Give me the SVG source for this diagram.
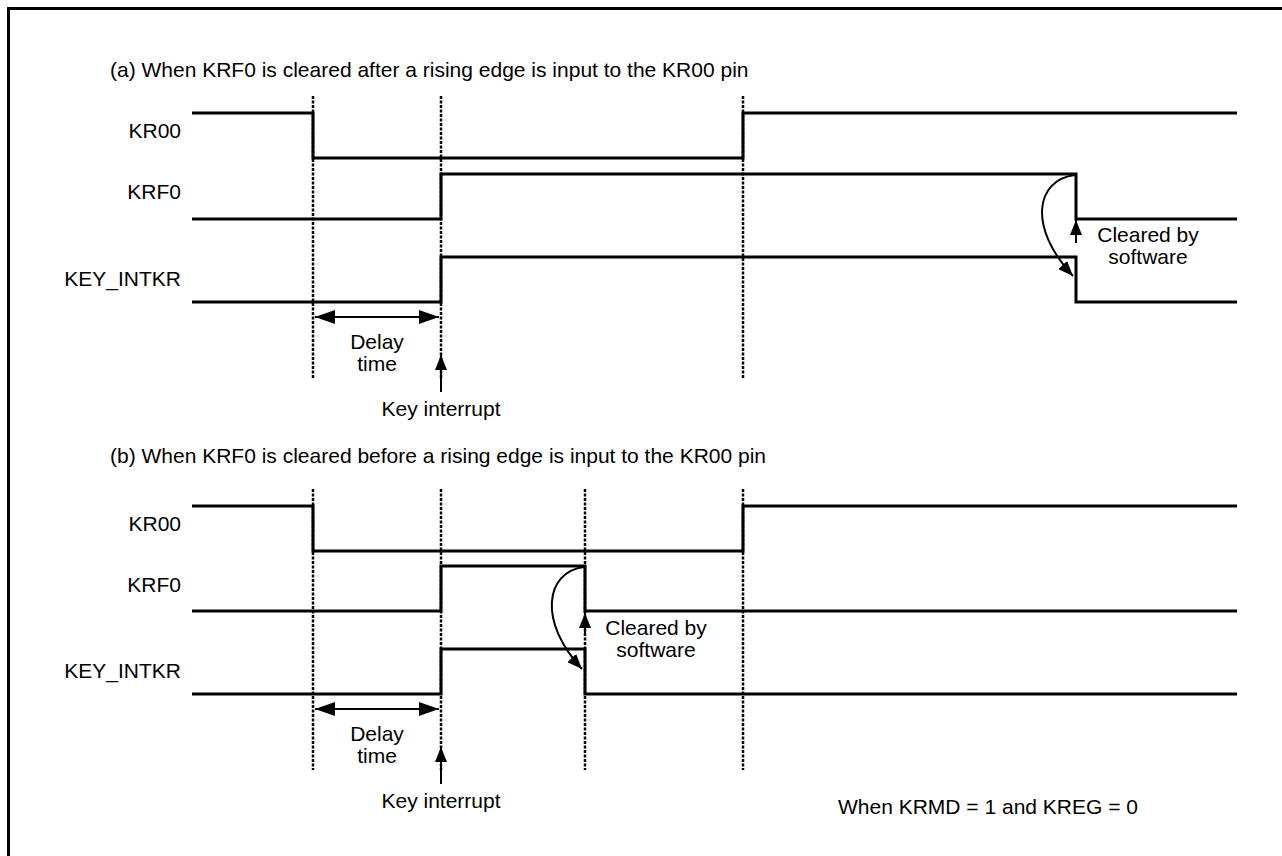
<svg xmlns="http://www.w3.org/2000/svg" width="1282" height="856" viewBox="0 0 1282 856">
<style>
text{font-family:"Liberation Sans",Arial,sans-serif;font-size:21px;fill:#000}
.lbl{text-anchor:end}
.mid{text-anchor:middle}
.wave{fill:none;stroke:#000;stroke-width:3;stroke-linejoin:miter}
.dot{stroke:#000;stroke-width:2.5;stroke-dasharray:3 1.5;fill:none}
.arr{stroke:#000;stroke-width:2;fill:none}
</style>
<defs>
<marker id="ah" viewBox="0 0 20 14" refX="20" refY="7" markerWidth="20" markerHeight="14" markerUnits="userSpaceOnUse" orient="auto-start-reverse">
<path d="M0,0 L20,7 L0,14 z" fill="#000"/>
</marker>
<marker id="ahs" viewBox="0 0 15 12" refX="15" refY="6" markerWidth="15" markerHeight="12" markerUnits="userSpaceOnUse" orient="auto">
<path d="M0,0 L15,6 L0,12 z" fill="#000"/>
</marker>
</defs>
<rect x="8.5" y="8.5" width="1290" height="870" fill="none" stroke="#000" stroke-width="3"/>

<g id="partA">
<text x="110" y="77">(a) When KRF0 is cleared after a rising edge is input to the KR00 pin</text>
<g id="a-KR00"><text class="lbl" x="181" y="138">KR00</text>
<path class="wave" d="M192,113 H313 V158 H743 V113 H1237"/></g>
<g id="a-KRF0"><text class="lbl" x="181" y="199">KRF0</text>
<path class="wave" d="M192,219 H441 V174 H1076 V219 H1237"/></g>
<g id="a-KEY"><text class="lbl" x="181" y="286">KEY_INTKR</text>
<path class="wave" d="M192,302 H441 V257 H1076 V302 H1237"/></g>
<g id="a-delay"><text class="mid" x="377" y="349">Delay</text><text class="mid" x="377" y="371">time</text></g>
<g id="a-keyint"><text class="mid" x="441" y="416">Key interrupt</text></g>
<g id="a-cleared"><text class="mid" x="1148" y="242">Cleared by</text><text class="mid" x="1148" y="264">software</text></g>
</g>

<g id="partB">
<text x="110" y="463">(b) When KRF0 is cleared before a rising edge is input to the KR00 pin</text>
<g id="b-KR00"><text class="lbl" x="181" y="531">KR00</text>
<path class="wave" d="M192,506 H313 V551 H743 V506 H1237"/></g>
<g id="b-KRF0"><text class="lbl" x="181" y="592">KRF0</text>
<path class="wave" d="M192,611 H441 V566 H585 V611 H1237"/></g>
<g id="b-KEY"><text class="lbl" x="181" y="678">KEY_INTKR</text>
<path class="wave" d="M192,694 H441 V649 H585 V694 H1237"/></g>
<g id="b-delay"><text class="mid" x="377" y="741">Delay</text><text class="mid" x="377" y="763">time</text></g>
<g id="b-keyint"><text class="mid" x="441" y="808">Key interrupt</text></g>
<g id="b-cleared"><text class="mid" x="656" y="635">Cleared by</text><text class="mid" x="656" y="657">software</text></g>
<text id="note" x="838" y="814">When KRMD = 1 and KREG = 0</text>
</g>

<g id="connectors">
<path class="dot" d="M313,96 V378 M441,96 V378 M743,96 V378"/>
<path class="dot" d="M313,489 V770 M441,489 V770 M585,489 V770 M743,489 V770"/>
<line class="arr" x1="315" y1="317" x2="439" y2="317" marker-start="url(#ah)" marker-end="url(#ah)"/>
<line class="arr" x1="441" y1="392" x2="441" y2="355" marker-end="url(#ahs)"/>
<line class="arr" x1="1076" y1="243" x2="1076" y2="220" marker-end="url(#ahs)"/>
<path class="arr" d="M1075,175 C1035,180 1028,228 1073,276" marker-end="url(#ahs)"/>
<line class="arr" x1="315" y1="709" x2="439" y2="709" marker-start="url(#ah)" marker-end="url(#ah)"/>
<line class="arr" x1="441" y1="784" x2="441" y2="747" marker-end="url(#ahs)"/>
<line class="arr" x1="585" y1="636" x2="585" y2="613" marker-end="url(#ahs)"/>
<path class="arr" d="M584,567 C545,572 538,622 582,669" marker-end="url(#ahs)"/>
</g>
</svg>
